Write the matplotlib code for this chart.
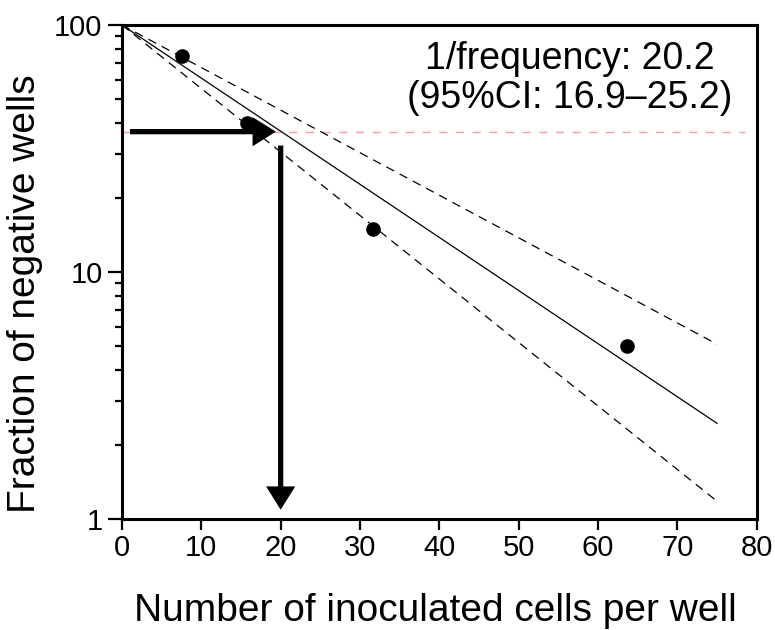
import matplotlib
matplotlib.use('Agg')

import matplotlib.pyplot as plt

# --- data ---
cells_per_well = [7.6, 15.7, 31.7, 63.7]
neg_fraction = [75, 40, 15, 5]

fit_x = [0, 75]
fit_y = [100, 2.44]          # best estimate, 1/frequency = 20.2
ci_upper_y = [100, 5.1]      # 95% CI bound (25.2)
ci_lower_y = [100, 1.18]     # 95% CI bound (16.9)

ref_level = 37               # 1/e level, %
ref_x = [0, 78.5]

est_text = '1/frequency: 20.2\n(95%CI: 16.9\u201325.2)'

plt.rcParams['font.family'] = ['Liberation Sans', 'DejaVu Sans']

fig = plt.figure(figsize=(7.75, 6.3), dpi=100)
ax = fig.add_axes([0.1574, 0.1762, 0.819, 0.7841])

ax.set_yscale('log')
ax.set_xlim(0, 80)
ax.set_ylim(1, 100)

# reference line at 37%
ax.plot(ref_x, [ref_level, ref_level], color='#f4a0a0', lw=1.0,
        dashes=(6, 6), zorder=1)

# fit and CI lines
ax.plot(fit_x, fit_y, color='black', lw=0.9, zorder=2)
ax.plot(fit_x, ci_upper_y, color='black', lw=0.9, dashes=(7, 5), zorder=2)
ax.plot(fit_x, ci_lower_y, color='black', lw=0.9, dashes=(7, 5), zorder=2)

# data points
ax.plot(cells_per_well, neg_fraction, 'o', color='black', ms=9.5, zorder=3)

# arrows (solid triangular heads)
arrow_kw = dict(arrowstyle='simple,head_length=1.2,head_width=1.5,tail_width=0.27',
                mutation_scale=14, lw=0, color='black',
                shrinkA=0, shrinkB=0)
ax.annotate('', xy=(19.4, ref_level), xytext=(1.0, ref_level),
            arrowprops=arrow_kw, zorder=4)
ax.annotate('', xy=(20, 1.09), xytext=(20, 32.5),
            arrowprops=arrow_kw, zorder=4)

ax.text(0.706, 0.968, est_text, transform=ax.transAxes, ha='center',
        va='top', fontsize=27, linespacing=1.12)

# axes styling
ax.set_xticks(range(0, 81, 10))
ax.set_yticks([1, 10, 100])
ax.set_yticklabels(['1', '10', '100'])
ax.tick_params(axis='both', which='major', labelsize=21, width=1.6)
ax.tick_params(axis='y', which='major', length=10, pad=4)
ax.tick_params(axis='y', which='minor', length=5, width=1.6)
ax.tick_params(axis='x', which='major', length=8, pad=3)
for side in ax.spines:
    ax.spines[side].set_linewidth(2.2)

ax.set_xlabel('Number of inoculated cells per well', fontsize=28)
ax.set_ylabel('Fraction of negative wells', fontsize=28)
ax.xaxis.set_label_coords(0.493, -0.150)
ax.yaxis.set_label_coords(-0.125, 0.457)

fig.savefig('out.png', dpi=100)
